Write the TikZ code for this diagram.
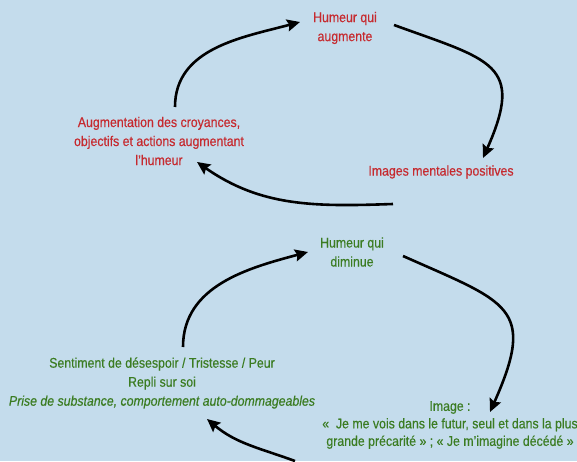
\documentclass[tikz,border=0pt]{standalone}
\usepackage{fontspec}
\setmainfont{Liberation Sans}[FakeStretch=0.88,FakeBold=0.4]
\usepackage{tikz}
\usetikzlibrary{arrows.meta}
\definecolor{bgblue}{HTML}{C4DCEC}
\definecolor{upred}{HTML}{C62A2F}
\definecolor{downgreen}{HTML}{3B7C22}
\tikzset{
  stage/.style={align=center,inner sep=2pt,font=\fontsize{14}{19}\selectfont},
  loop/.style={line width=2.6pt,-{Stealth[length=13pt,width=12pt,inset=2pt]}}
}

\begin{document}
\begin{tikzpicture}[x=1pt,y=1pt]
 \fill[bgblue] (0,0) rectangle (577,461);
 \useasboundingbox (0,0) rectangle (577,461);
 % spirale qui monte
 \node[stage,upred] (hup) at (345,433) {Humeur qui\\augmente};
 \node[stage,upred] (imgpos) at (441,289) {Images mentales positives};
 \node[stage,upred] (augm) at (159,320) {Augmentation des croyances,\\objectifs et actions augmentant\\l’humeur};
 \draw[loop] ([shift={(16,34)}]augm.center) to[out=90,in=195] ([shift={(-45,6)}]hup.center);
 \draw[loop] ([shift={(49,3)}]hup.center) to[out=-20,in=66,looseness=1.65] ([shift={(42,14)}]imgpos.center);
 \draw[loop] ([shift={(-48,-32)}]imgpos.center) to[out=182,in=-35] ([shift={(38,-21)}]augm.center);
 % spirale qui descend
 \node[stage,downgreen] (hdown) at (352,209) {Humeur qui\\diminue};
 \node[stage,downgreen] (sent) at (162,78) {Sentiment de désespoir / Tristesse / Peur\\Repli sur soi\\\textit{Prise de substance, comportement auto-dommageables}};
 \node[stage,downgreen,font=\fontsize{14}{17.5}\selectfont] (imgneg) at (450,36) {Image :\\«~ Je me vois dans le futur, seul et dans la plus\\grande précarité » ; « Je m’imagine décédé »};
 \draw[loop] ([shift={(21,36)}]sent.center) to[out=90,in=195] ([shift={(-44,0)}]hdown.center);
 \draw[loop] ([shift={(51,-4)}]hdown.center) to[out=-24,in=66,looseness=1.65] ([shift={(40,13)}]imgneg.center);
 \draw[loop] ([shift={(-155,-36)}]imgneg.center) to[out=160,in=-40] ([shift={(45,-36)}]sent.center);
\end{tikzpicture}
\end{document}
